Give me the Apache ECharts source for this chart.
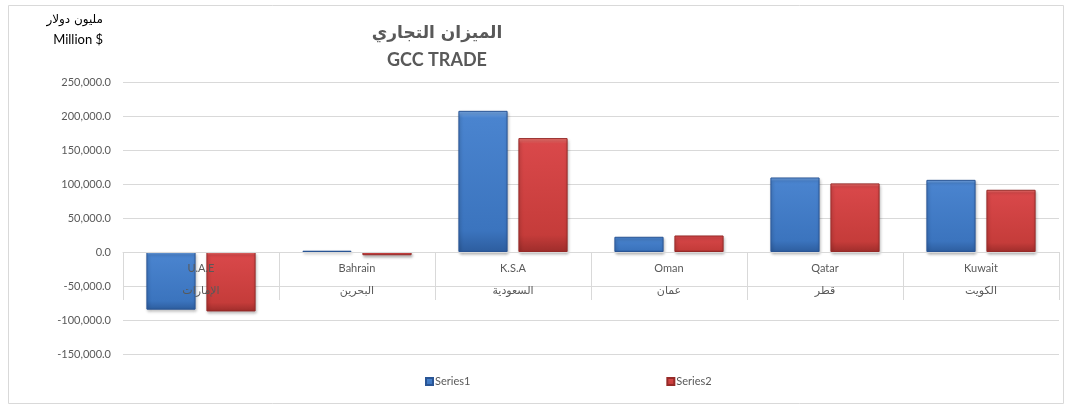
<!DOCTYPE html>
<html>
<head>
<meta charset="utf-8">
<script src="https://cdn.jsdelivr.net/npm/echarts@6/dist/echarts.min.js"></script>
<style>
html,body{margin:0;padding:0;background:#fff;}
#c{width:1066px;height:406px;}
</style>
</head>
<body>
<div id="c"></div>
<script>
var categoriesEn = ['U.A.E', 'Bahrain', 'K.S.A', 'Oman', 'Qatar', 'Kuwait'];
var categoriesAr = ['الإمارات', 'البحرين', 'السعودية', 'عمان', 'قطر', 'الكويت'];
var series1 = [-84800, 1900, 207600, 22400, 109600, 106100];
var series2 = [-87400, -4800, 167500, 24300, 100900, 91500];
var seriesNames = ['Series1', 'Series2'];
var yTicks = { min: -150000, max: 250000, step: 50000 };

var chart = echarts.init(document.getElementById('c'));
var FONT = 'Lato, "DejaVu Sans", sans-serif';

function fmt(v) {
  var s = Math.abs(v).toString().replace(/\B(?=(\d{3})+(?!\d))/g, ',');
  return (v < 0 ? '-' : '') + s + '.0';
}

var blueFill = new echarts.graphic.LinearGradient(0, 0, 0, 1, [
  { offset: 0, color: '#7aaae6' },
  { offset: 0.05, color: '#4a84cf' },
  { offset: 0.85, color: '#3b74be' },
  { offset: 1, color: '#2d5d9e' }
]);
var redFill = new echarts.graphic.LinearGradient(0, 0, 0, 1, [
  { offset: 0, color: '#f07a74' },
  { offset: 0.05, color: '#d9484a' },
  { offset: 0.85, color: '#c53c3a' },
  { offset: 1, color: '#9e2d2b' }
]);

chart.setOption({
  animation: false,
  textStyle: { fontFamily: FONT },
  graphic: [
    { type: 'rect', shape: { x: 8.5, y: 5.5, width: 1055, height: 398 }, style: { fill: 'none', stroke: '#d9d9d9', lineWidth: 1 }, z: -1 },
    { type: 'text', x: 103, y: 14, style: { text: 'مليون دولار', fill: '#000', font: '12px "DejaVu Sans", sans-serif', textAlign: 'right' } },
    { type: 'text', x: 103, y: 33, style: { text: 'Million $', fill: '#000', font: '13px ' + FONT, textAlign: 'right' } },
    { type: 'text', x: 437, y: 25, style: { text: 'الميزان التجاري', fill: '#595959', font: 'bold 17px "DejaVu Sans", sans-serif', textAlign: 'center' } },
    { type: 'text', x: 437, y: 51, style: { text: 'GCC TRADE', fill: '#595959', font: 'bold 18px ' + FONT, textAlign: 'center' } }
  ],
  legend: {
    data: seriesNames,
    left: 420,
    top: 371,
    itemWidth: 7,
    itemHeight: 7,
    itemGap: 196,
    icon: 'rect',
    textStyle: { color: '#595959', fontSize: 11, fontFamily: FONT, padding: [0, 0, 0, -3] }
  },
  grid: { left: 123, right: 7, top: 82, bottom: 52, containLabel: false },
  xAxis: {
    type: 'category',
    data: categoriesEn,
    z: 10,
    offset: -102,
    axisLine: { onZero: false, lineStyle: { color: '#d9d9d9', width: 1 } },
    axisTick: { show: true, length: 48, lineStyle: { color: '#d9d9d9' } },
    axisLabel: {
      margin: 5,
      interval: 0,
      formatter: function (v, i) { return '{en|' + v + '}\n{ar|' + categoriesAr[i] + '}'; },
      rich: {
        en: { fontSize: 11, color: '#595959', lineHeight: 22, fontFamily: FONT },
        ar: { fontSize: 11, color: '#595959', lineHeight: 24, fontFamily: '"DejaVu Sans", sans-serif' }
      }
    }
  },
  yAxis: {
    type: 'value',
    min: yTicks.min,
    max: yTicks.max,
    interval: yTicks.step,
    axisLine: { show: false },
    axisTick: { show: false },
    splitLine: { lineStyle: { color: '#d9d9d9', width: 1 } },
    axisLabel: { color: '#595959', fontSize: 11, margin: 12, formatter: fmt, fontFamily: FONT }
  },
  series: [
    {
      name: seriesNames[0], type: 'bar', data: series1,
      barCategoryGap: '30%', barGap: '22%',
      itemStyle: { color: blueFill, borderColor: '#2a5595', borderWidth: 1, shadowColor: 'rgba(0,0,0,0.3)', shadowBlur: 3, shadowOffsetX: 1, shadowOffsetY: 2 }
    },
    {
      name: seriesNames[1], type: 'bar', data: series2,
      barCategoryGap: '30%', barGap: '22%',
      itemStyle: { color: redFill, borderColor: '#962a28', borderWidth: 1, shadowColor: 'rgba(0,0,0,0.3)', shadowBlur: 3, shadowOffsetX: 1, shadowOffsetY: 2 }
    }
  ]
});
</script>
</body>
</html>
